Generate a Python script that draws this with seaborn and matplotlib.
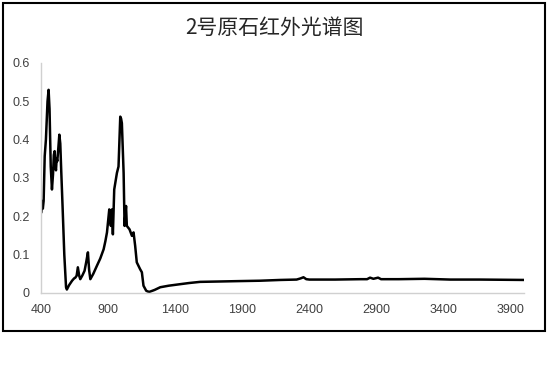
import matplotlib
matplotlib.use("Agg")
import matplotlib.pyplot as plt
import seaborn as sns
import pandas as pd
from matplotlib.patches import Rectangle

# wavenumber (cm-1) and absorbance
wavenumber = [404, 410, 415, 421, 429, 438, 450, 458, 465, 474, 483, 491, 497, 503,
              509, 513, 518, 523, 531, 538, 545, 552, 562, 575, 588, 594, 610, 633,
              648, 657, 667, 676, 686, 694, 710, 726, 738, 751, 760, 769, 791, 818,
              843, 868, 881, 893, 910, 917, 922, 930, 937, 947, 967, 979, 986, 992,
              998, 1004, 1017, 1024, 1031, 1035, 1041, 1061, 1079, 1091, 1103, 1115,
              1140, 1153, 1165, 1185, 1196, 1210, 1248, 1290, 1353, 1439, 1505, 1587,
              1734, 1877, 2034, 2185, 2306, 2335, 2357, 2378, 2401, 2592, 2783, 2831,
              2853, 2878, 2913, 2935, 3068, 3259, 3450, 3672, 4000]
absorbance = [0.21, 0.24, 0.22, 0.24, 0.357, 0.40, 0.50, 0.53, 0.48, 0.33, 0.27, 0.31, 0.36, 0.37,
              0.33, 0.32, 0.35, 0.344, 0.38, 0.413, 0.39, 0.32, 0.227, 0.10, 0.015, 0.009, 0.02, 0.032,
              0.038, 0.04, 0.045, 0.067, 0.045, 0.036, 0.046, 0.058, 0.08, 0.106, 0.06, 0.036, 0.05, 0.071,
              0.09, 0.114, 0.135, 0.158, 0.218, 0.19, 0.175, 0.218, 0.153, 0.27, 0.313, 0.33, 0.40, 0.46,
              0.455, 0.443, 0.313, 0.175, 0.21, 0.227, 0.175, 0.166, 0.149, 0.158, 0.123, 0.08,
              0.062, 0.054, 0.019, 0.006, 0.004, 0.003, 0.008, 0.015, 0.019, 0.023, 0.026, 0.029,
              0.030, 0.031, 0.032, 0.034, 0.035, 0.038, 0.041, 0.036, 0.035, 0.035, 0.036, 0.036,
              0.040, 0.037, 0.040, 0.036, 0.036, 0.037, 0.035, 0.035, 0.034]

x_ticks = [400, 900, 1400, 1900, 2400, 2900, 3400, 3900]
y_ticks = [0, 0.1, 0.2, 0.3, 0.4, 0.5, 0.6]
y_tick_labels = ["0", "0.1", "0.2", "0.3", "0.4", "0.5", "0.6"]
title = "2号原石红外光谱图"

df = pd.DataFrame({"wavenumber": wavenumber, "absorbance": absorbance})

sns.set_style("white")
plt.rcParams["font.family"] = ["Liberation Sans", "Noto Sans CJK SC", "DejaVu Sans"]

fig = plt.figure(figsize=(5.5, 3.66), dpi=100)
ax = fig.add_axes([0.0742, 0.1995, 0.8785, 0.6284])

sns.lineplot(data=df, x="wavenumber", y="absorbance", ax=ax, color="black",
             linewidth=1.8, sort=False)

ax.set_xlim(400, 4000)
ax.set_ylim(0, 0.6)
ax.set_xticks(x_ticks)
ax.set_yticks(y_ticks)
ax.set_yticklabels(y_tick_labels)
ax.set_xlabel("")
ax.set_ylabel("")
ax.tick_params(axis="both", length=0, labelsize=9, colors="#404040")
ax.tick_params(axis="x", pad=8)
ax.tick_params(axis="y", pad=8)
for side in ["top", "right"]:
    ax.spines[side].set_visible(False)
for side in ["left", "bottom"]:
    ax.spines[side].set_color("#d0d0d0")
    ax.spines[side].set_linewidth(1.0)

fig.text(0.499, 1 - 28 / 366, title, ha="center", va="center", fontsize=15,
         family=["Noto Sans CJK SC", "DejaVu Sans"], color="#262626")

# outer chart frame
fig.patches.append(Rectangle((3 / 550, 1 - 331 / 366), 542 / 550, 328 / 366,
                             transform=fig.transFigure, fill=False,
                             edgecolor="black", linewidth=1.5))

fig.savefig("out.png", dpi=100)
